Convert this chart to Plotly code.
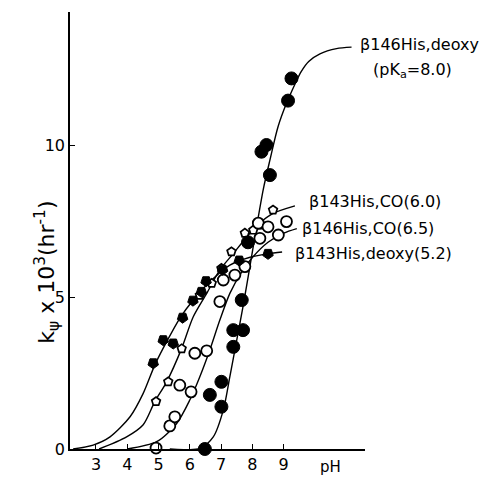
import plotly.graph_objects as go

# ---- data ----
# fitted curves (pH, k x 10^3)
curve_143deoxy_ph = [2.27, 2.91, 3.45, 4.09, 4.51, 4.88, 5.26, 5.68, 6.11, 6.64, 7.28, 7.9, 8.5, 8.95]
curve_143deoxy_y = [0.0, 0.13, 0.4, 1.06, 1.83, 2.76, 3.53, 4.3, 4.9, 5.5, 6.05, 6.3, 6.42, 6.48]

curve_143co_ph = [3.1, 3.98, 4.51, 4.88, 5.26, 5.74, 6.11, 6.54, 6.96, 7.39, 7.8, 8.2, 8.66, 9.36]
curve_143co_y = [0.0, 0.4, 0.8, 1.56, 2.21, 3.31, 4.35, 5.12, 5.89, 6.43, 6.95, 7.4, 7.75, 8.0]

curve_146co_ph = [4.0, 4.94, 5.58, 6.0, 6.32, 6.64, 6.96, 7.28, 7.66, 8.0, 8.5, 9.0, 9.42]
curve_146co_y = [0.0, 0.24, 0.84, 1.61, 2.38, 3.26, 4.24, 5.12, 5.83, 6.3, 6.8, 7.1, 7.25]

curve_146deoxy_ph = [5.36, 6.32, 6.75, 7.07, 7.28, 7.5, 7.7, 7.92, 8.1, 8.35, 8.56, 8.82, 9.09, 9.36, 9.55, 9.8, 10.16, 10.69, 11.17]
curve_146deoxy_y = [0.0, 0.02, 0.4, 1.28, 2.38, 3.58, 4.68, 6.0, 7.1, 8.55, 9.5, 10.6, 11.37, 12.0, 12.4, 12.75, 13.0, 13.17, 13.22]

# measured points
pts_143deoxy_ph = [4.83, 5.15, 5.47, 5.77, 6.1, 6.37, 6.52, 7.05, 7.58, 8.5]
pts_143deoxy_y = [2.82, 3.58, 3.47, 4.32, 4.88, 5.17, 5.52, 5.9, 6.2, 6.42]

pts_143co_ph = [4.92, 5.31, 5.74, 6.32, 6.7, 7.01, 7.33, 7.76, 8.03, 8.24, 8.66]
pts_143co_y = [1.56, 2.21, 3.3, 5.06, 5.45, 5.94, 6.49, 7.1, 7.2, 7.37, 7.86]

pts_146co_ph = [4.92, 5.36, 5.52, 5.68, 6.04, 6.16, 6.54, 6.96, 7.07, 7.44, 7.76, 8.19, 8.24, 8.5, 8.83, 9.09]
pts_146co_y = [0.03, 0.76, 1.06, 2.1, 1.88, 3.15, 3.23, 4.85, 5.56, 5.72, 6.0, 7.43, 6.93, 7.31, 7.04, 7.48]

pts_146deoxy_ph = [6.48, 6.64, 7.01, 7.01, 7.39, 7.39, 7.7, 7.66, 7.86, 8.29, 8.45, 8.56, 9.14, 9.25]
pts_146deoxy_y = [0.0, 1.78, 2.21, 1.39, 3.36, 3.91, 3.91, 4.9, 6.8, 9.78, 10.0, 9.01, 11.46, 12.19]

x_ticks = [3, 4, 5, 6, 7, 8, 9]
y_ticks = [0, 5, 10]

FONT = "DejaVu Sans"
line_style = dict(color="black", width=1.4, shape="spline", smoothing=0.8)

fig = go.Figure()
for cx, cy in [(curve_143deoxy_ph, curve_143deoxy_y), (curve_143co_ph, curve_143co_y),
               (curve_146co_ph, curve_146co_y), (curve_146deoxy_ph, curve_146deoxy_y)]:
    fig.add_trace(go.Scatter(x=cx, y=cy, mode="lines", line=line_style,
                             hoverinfo="skip", cliponaxis=False))

fig.add_trace(go.Scatter(x=pts_143co_ph, y=pts_143co_y, mode="markers", cliponaxis=False,
                         marker=dict(symbol="pentagon", size=9, color="white",
                                     line=dict(color="black", width=1.7))))
fig.add_trace(go.Scatter(x=pts_146co_ph, y=pts_146co_y, mode="markers", cliponaxis=False,
                         marker=dict(symbol="circle", size=11, color="white",
                                     line=dict(color="black", width=1.8))))
fig.add_trace(go.Scatter(x=pts_143deoxy_ph, y=pts_143deoxy_y, mode="markers", cliponaxis=False,
                         marker=dict(symbol="pentagon", angle=180, size=11, color="black",
                                     line=dict(color="black", width=1))))
fig.add_trace(go.Scatter(x=pts_146deoxy_ph, y=pts_146deoxy_y, mode="markers", cliponaxis=False,
                         marker=dict(symbol="circle", size=13, color="black",
                                     line=dict(color="black", width=1))))

lab_font = dict(family=FONT, size=16, color="black")
annots = [
    dict(x=0.976, y=0.9245, text="β146His,deoxy"),
    dict(x=1.020, y=0.867, text="(pK<sub>a</sub>=8.0)"),
    dict(x=0.803, y=0.5675, text="β143His,CO(6.0)"),
    dict(x=0.780, y=0.5057, text="β146His,CO(6.5)"),
    dict(x=0.756, y=0.4485, text="β143His,deoxy(5.2)"),
]
for a in annots:
    a.update(xref="paper", yref="paper", showarrow=False, xanchor="left",
             yanchor="middle", font=lab_font)
annots.append(dict(xref="paper", yref="paper", x=-0.14, y=0.405, textangle=-90,
                   text="k<sub>ψ</sub> x 10<sup>3</sup>(hr<sup>-1</sup>)", showarrow=False,
                   font=dict(family=FONT, size=22, color="black")))
annots.append(dict(xref="paper", yref="paper", x=0.925, y=-0.042, text="pH", showarrow=False,
                   yanchor="middle", font=dict(family=FONT, size=15, color="black")))

fig.update_layout(
    width=496, height=488,
    margin=dict(l=70, r=131, t=12, b=39),
    paper_bgcolor="white", plot_bgcolor="white",
    showlegend=False,
    annotations=annots,
    font=dict(family=FONT, size=16, color="black"),
)
fig.update_xaxes(range=[2.17, 11.6], showline=True, linecolor="black", linewidth=1.5,
                 ticks="inside", ticklen=5, tickwidth=1.3, tickcolor="black",
                 tickvals=x_ticks, ticktext=[str(v) for v in x_ticks],
                 showgrid=False, zeroline=False)
fig.update_yaxes(range=[0, 14.375], showline=True, linecolor="black", linewidth=1.5,
                 ticks="inside", ticklen=5, tickwidth=1.3, tickcolor="black",
                 tickvals=y_ticks, ticktext=[str(v) for v in y_ticks],
                 showgrid=False, zeroline=False)

fig.write_html("out.html", config={"displayModeBar": False},
               post_script="document.body.style.margin='0';document.body.style.overflow='hidden';")
